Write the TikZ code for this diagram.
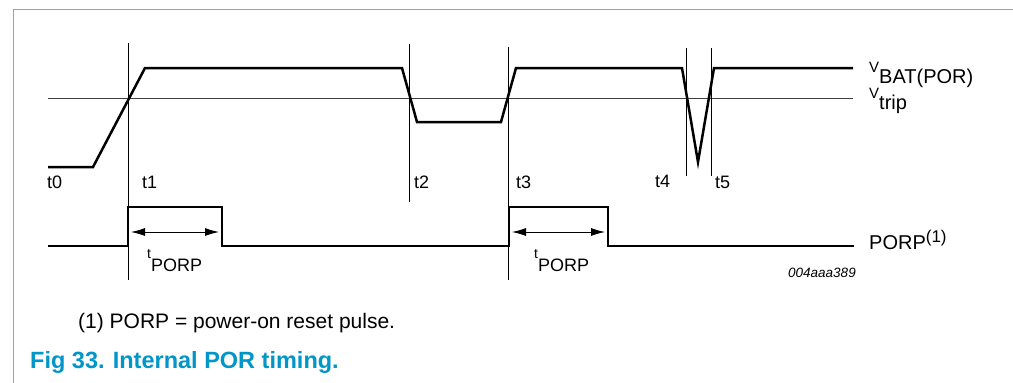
\documentclass[tikz,border=0pt]{standalone}
\usepackage{fontspec}
\setmainfont{Liberation Sans}
\usetikzlibrary{arrows.meta}
\definecolor{frameblue}{RGB}{80,190,222}
\definecolor{capblue}{RGB}{0,150,200}
\begin{document}
\begin{tikzpicture}[x=1pt,y=-1pt,
  wave/.style={line width=2.5pt, line join=miter},
  tick/.style={line width=0.9pt},
  lbl/.style={font=\fontsize{18}{21}\selectfont, anchor=base west, inner sep=0pt},
  rlbl/.style={lbl, font=\fontsize{20}{24}\selectfont},
  dim/.style={line width=0.9pt, {Latex[length=14pt,width=8pt]}-{Latex[length=14pt,width=8pt]}}]
\useasboundingbox (0,0) rectangle (1013,383);
\fill[white] (0,0) rectangle (1013,383);
% frame
\coordinate (fb) at (13.5,383);
\coordinate (fc) at (13.5,9.5);
\coordinate (fr) at (1013,9.5);
\draw[frameblue, line width=1.8pt] (fb) -- (fc) -- (fr);
% Vtrip reference line
\coordinate (vt0) at (48,98);
\coordinate (vt1) at (853,98);
\draw[line width=0.9pt, black!75] (vt0) -- (vt1);
% time markers
\coordinate (m1a) at (128,43);  \coordinate (m1b) at (128,280);
\coordinate (m2a) at (409,44);  \coordinate (m2b) at (409,202);
\coordinate (m3a) at (508,47);  \coordinate (m3b) at (508,280);
\coordinate (m4a) at (686,48);  \coordinate (m4b) at (686,176);
\coordinate (m5a) at (711,48);  \coordinate (m5b) at (711,176);
\draw[tick] (m1a) -- (m1b);
\draw[tick] (m2a) -- (m2b);
\draw[tick] (m3a) -- (m3b);
\draw[tick] (m4a) -- (m4b);
\draw[tick] (m5a) -- (m5b);
% VBAT waveform
\coordinate (v0) at (48,167);
\coordinate (v1) at (93,167);
\coordinate (v2) at (145,68);
\coordinate (v3) at (402,68);
\coordinate (v4) at (417,122);
\coordinate (v5) at (501,122);
\coordinate (v6) at (516,68);
\coordinate (v7) at (682,68);
\coordinate (v8) at (698,162);
\coordinate (v9) at (714,68);
\coordinate (v10) at (853,68);
\draw[wave] (v0) -- (v1) -- (v2) -- (v3) -- (v4) -- (v5) -- (v6) -- (v7) -- (v8) -- (v9) -- (v10);
% PORP waveform
\coordinate (p0) at (48,246);
\coordinate (p1) at (128,246);
\coordinate (p2) at (128,207);
\coordinate (p3) at (222,207);
\coordinate (p4) at (222,246);
\coordinate (p5) at (509,246);
\coordinate (p6) at (509,207);
\coordinate (p7) at (608,207);
\coordinate (p8) at (608,246);
\coordinate (p9) at (854,246);
\draw[wave] (p0) -- (p1) -- (p2) -- (p3) -- (p4) -- (p5) -- (p6) -- (p7) -- (p8) -- (p9);
% tPORP dimensions
\coordinate (a1) at (131,232); \coordinate (b1) at (219,232);
\coordinate (a2) at (512,232); \coordinate (b2) at (605,232);
\draw[dim] (a1) -- (b1);
\draw[dim] (a2) -- (b2);
% labels
\node[lbl] (lt0) at (47,188) {t0};
\node[lbl] (lt1) at (142,188) {t1};
\node[lbl] (lt2) at (414,188) {t2};
\node[lbl] (lt3) at (516,188) {t3};
\node[lbl] (lt4) at (655,187) {t4};
\node[lbl] (lt5) at (715,188) {t5};
\node[rlbl] (lvbat) at (869,83) {\raisebox{11pt}{\fontsize{15}{17}\selectfont V}BAT(POR)};
\node[rlbl] (lvtrip) at (869,109) {\raisebox{11pt}{\fontsize{15}{17}\selectfont V}trip};
\node[rlbl] (lporp) at (869,249) {PORP\raisebox{7pt}{\fontsize{17}{19}\selectfont (1)}};
\node[lbl] (ltp1) at (147,271) {\raisebox{13pt}{\fontsize{14}{16}\selectfont t}PORP};
\node[lbl] (ltp2) at (534,271) {\raisebox{13pt}{\fontsize{14}{16}\selectfont t}PORP};
\node[lbl, font=\fontsize{13.5}{16}\selectfont\itshape] (code) at (788,277) {004aaa389};
\node[lbl, font=\fontsize{21}{25}\selectfont] (note) at (78,328) {(1) PORP = power-on reset pulse.};
\node[lbl, font=\fontsize{23.5}{27}\selectfont\bfseries, text=capblue] (cap) at (30,368) {Fig 33.\hspace{0.35em}Internal POR timing.};
\end{tikzpicture}
\end{document}
